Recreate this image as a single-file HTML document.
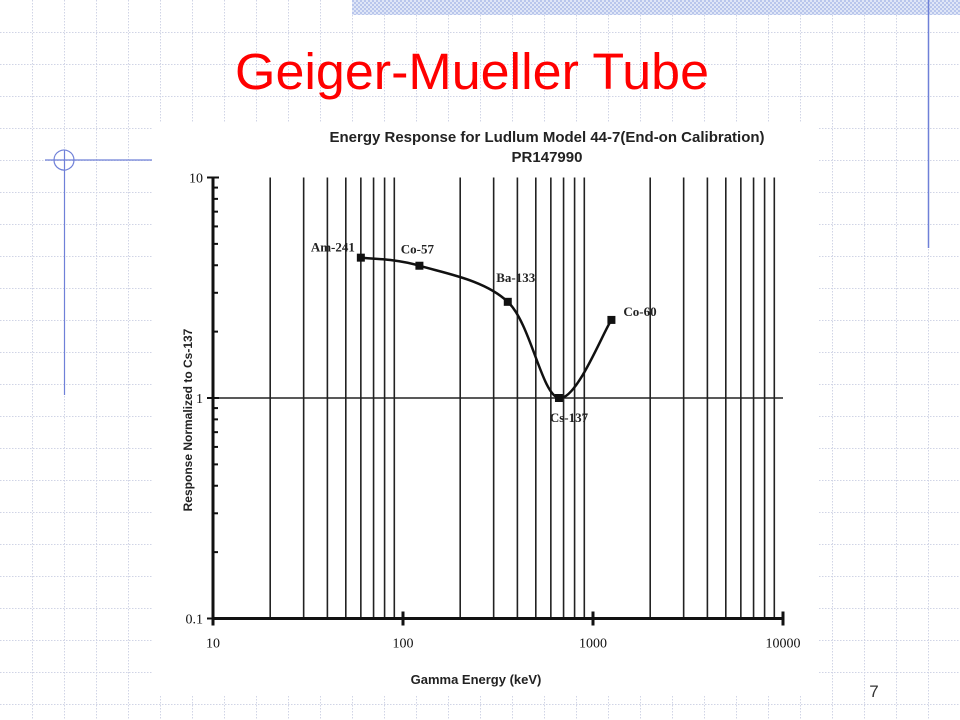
<!DOCTYPE html>
<html><head><meta charset="utf-8"><style>
body{margin:0;width:960px;height:720px;overflow:hidden;background:#fff;font-family:"Liberation Sans",sans-serif;position:relative}
</style></head><body>
<svg width="960" height="720" style="position:absolute;left:0;top:0">
<defs>
<pattern id="hatch" width="4" height="4" patternUnits="userSpaceOnUse"><rect width="4" height="4" fill="#dfe6f7"/><rect width="2" height="2" fill="#b9c6ec"/><rect x="2" y="2" width="2" height="2" fill="#b9c6ec"/></pattern>
</defs>
<g id="bggrid" stroke="#d0d4e6" stroke-width="1" stroke-dasharray="1.5,1.5"></g>
<rect x="352" y="0" width="608" height="15" fill="url(#hatch)"/>
<line x1="928.5" y1="0" x2="928.5" y2="248" stroke="#6f80d8" stroke-width="1.5"/>
<line x1="45" y1="160" x2="152" y2="160" stroke="#6f80d8" stroke-width="1.2"/>
<line x1="64.5" y1="150" x2="64.5" y2="395" stroke="#6f80d8" stroke-width="1.2"/>
<path d="M74,160 A10,10 0 1 0 74,160.1" fill="none" stroke="#6f80d8" stroke-width="1.2"/>
<text x="472" y="89" text-anchor="middle" font-size="51" fill="#ff0000" font-family="Liberation Sans, sans-serif" textLength="474" lengthAdjust="spacingAndGlyphs">Geiger-Mueller Tube</text>
<rect x="152" y="122" width="667" height="573" fill="#fff"/>
<g id="chart"></g>
<text x="874" y="697" text-anchor="middle" font-size="17" fill="#333">7</text>
</svg>
<script>
var NS='http://www.w3.org/2000/svg';
var names=['Am-241','Co-57','Ba-133','Cs-137','Co-60'];
var energies=[60,122,356,662,1250];
var responses=[4.33,3.98,2.73,1.0,2.26];
var xTicks=[10,100,1000,10000];
var xTickLabels=['10','100','1000','10000'];
var yTicks=[0.1,1,10];
var yTickLabels=['0.1','1','10'];

function X(v){return 213+(Math.log10(v)-1)*190;}
function Y(v){return 398-Math.log10(v)*220.5;}
function mk(tag,attrs,parent){var e=document.createElementNS(NS,tag);for(var k in attrs)e.setAttribute(k,attrs[k]);parent.appendChild(e);return e;}

var bg=document.getElementById('bggrid');
for(var gx=32;gx<960;gx+=32){var l=mk('line',{x1:gx+.5,y1:0,x2:gx+.5,y2:720},bg);}
for(var gy=32;gy<720;gy+=32){var l2=mk('line',{x1:0,y1:gy+.5,x2:960,y2:gy+.5},bg);}

var c=document.getElementById('chart');
var yTop=Y(10),yBot=Y(0.1);
for(var d=10;d<10000;d*=10){for(var m=2;m<=9;m++){var v=d*m;
 var gl=mk('line',{x1:X(v),y1:yTop,x2:X(v),y2:yBot,stroke:'#222','stroke-width':1.6},c);
 }}
var hl=mk('line',{x1:X(10),y1:Y(1),x2:X(10000),y2:Y(1),stroke:'#222','stroke-width':1.4},c);

var ya=mk('line',{x1:X(10),y1:yTop,x2:X(10),y2:yBot,stroke:'#111','stroke-width':3},c);

var xa=mk('line',{x1:X(10),y1:yBot,x2:X(10000),y2:yBot,stroke:'#111','stroke-width':3},c);

for(var dd=0.1;dd<10;dd*=10){for(var mm=2;mm<=9;mm++){var yy=Y(dd*mm);
 var t=mk('line',{x1:X(10),y1:yy,x2:X(10)+5,y2:yy,stroke:'#111','stroke-width':2},c);
 }}
yTicks.forEach(function(v,i){
 var t=mk('line',{x1:X(10)-6,y1:Y(v),x2:X(10)+6,y2:Y(v),stroke:'#111','stroke-width':2},c);
 
 var tx=mk('text',{x:X(10)-10,y:Y(v)+5,'text-anchor':'end','font-size':14,'font-family':'Liberation Serif, serif',fill:'#111'},c);
 tx.textContent=yTickLabels[i];
 
});
xTicks.forEach(function(v,i){
 var t=mk('line',{x1:X(v),y1:yBot-7,x2:X(v),y2:yBot+7,stroke:'#111','stroke-width':3},c);
 
 var tx=mk('text',{x:X(v),y:yBot+29,'text-anchor':'middle','font-size':14,'font-family':'Liberation Serif, serif',fill:'#111'},c);
 tx.textContent=xTickLabels[i];
 
});
var P=energies.map(function(e,i){return [X(e),Y(responses[i])];});
var dstr='M'+P[0][0]+','+P[0][1];
for(var i=0;i<P.length-1;i++){
 var p0=P[Math.max(0,i-1)],p1=P[i],p2=P[i+1],p3=P[Math.min(P.length-1,i+2)];
 var c1=[p1[0]+(p2[0]-p0[0])/6,p1[1]+(p2[1]-p0[1])/6];
 var c2=[p2[0]-(p3[0]-p1[0])/6,p2[1]-(p3[1]-p1[1])/6];
 dstr+=' C'+c1[0]+','+c1[1]+' '+c2[0]+','+c2[1]+' '+p2[0]+','+p2[1];
}
var cv=mk('path',{d:dstr,fill:'none',stroke:'#111','stroke-width':2.5},c);

var lblOff=[[-28,-6],[-2,-12],[8,-20],[10,24],[28,-4]];
var anchors=['middle','middle','middle','middle','start'];
P.forEach(function(p,i){
 var r=mk('rect',{x:p[0]-4,y:p[1]-4,width:8,height:8,fill:'#111'},c);
 
 var tx=mk('text',{x:p[0]+lblOff[i][0]+(anchors[i]=='start'?-16:0),y:p[1]+lblOff[i][1],'text-anchor':anchors[i],'font-size':13,'font-weight':'bold','font-family':'Liberation Serif, serif',fill:'#222'},c);
 tx.textContent=names[i];
 
});
var t1=mk('text',{x:547,y:142,'text-anchor':'middle','font-size':15,'font-weight':'bold',fill:'#222'},c);
t1.textContent='Energy Response for Ludlum  Model 44-7(End-on Calibration)';

var t2=mk('text',{x:547,y:162,'text-anchor':'middle','font-size':15,'font-weight':'bold',fill:'#222'},c);
t2.textContent='PR147990';

var xl=mk('text',{x:476,y:684,'text-anchor':'middle','font-size':13,'font-weight':'bold',fill:'#222'},c);
xl.textContent='Gamma Energy (keV)';

var yl=mk('text',{x:0,y:0,'text-anchor':'middle','font-size':12,'font-weight':'bold',fill:'#222',transform:'translate(192,420) rotate(-90)'},c);
yl.textContent='Response Normalized to Cs-137';

</script>
</body></html>
